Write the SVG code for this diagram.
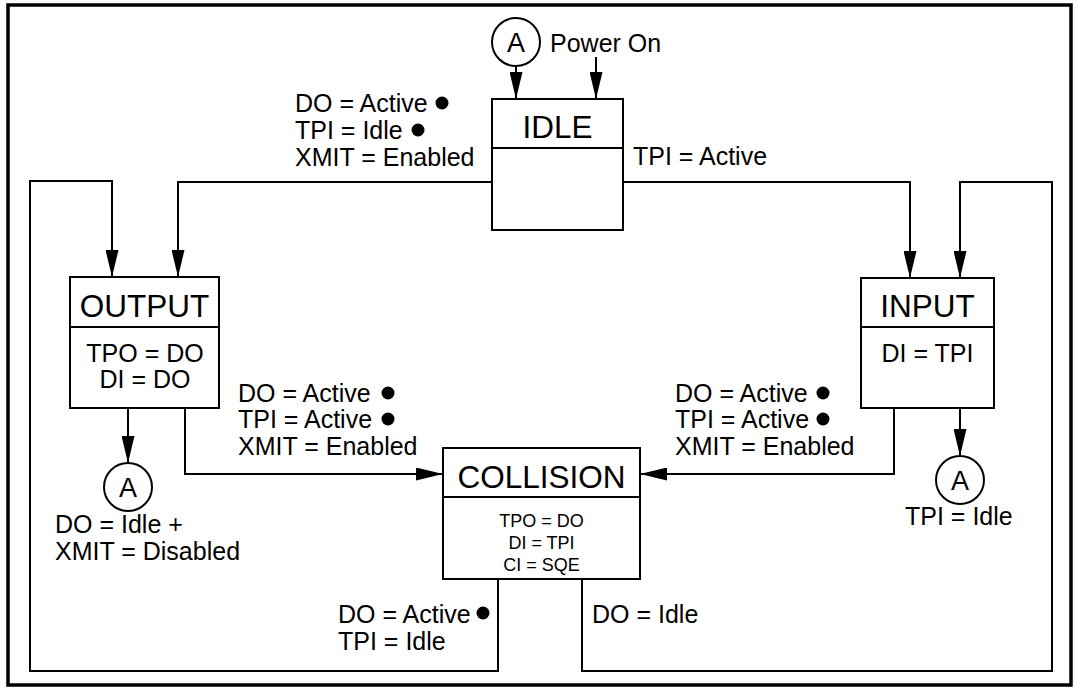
<svg xmlns="http://www.w3.org/2000/svg" width="1075" height="688" viewBox="0 0 1075 688">
<style>
text{font-family:"Liberation Sans",Arial,sans-serif;fill:#000}
.t{font-size:31.5px;text-anchor:middle}
.l{font-size:25px}
.c{font-size:25px;text-anchor:middle}
.a{font-size:27px;text-anchor:middle}
.s{font-size:18px;text-anchor:middle}
.box{fill:#fff;stroke:#000;stroke-width:2}
.conn{fill:none;stroke:#000;stroke-width:2}
.dot{fill:#000}
</style>
<defs>
<marker id="ah" markerUnits="userSpaceOnUse" markerWidth="27" markerHeight="13" refX="27" refY="6.5" orient="auto">
<path d="M0,0 L27,6.5 L0,13 z" fill="#000"/>
</marker>
</defs>
<rect x="0" y="0" width="1075" height="688" fill="#fff"/>
<rect x="8" y="5" width="1063" height="680" fill="none" stroke="#000" stroke-width="3.5"/>
<g id="connectors">
<path class="conn" d="M516,66 V99" marker-end="url(#ah)"/>
<path class="conn" d="M596,57 V99" marker-end="url(#ah)"/>
<path class="conn" d="M492,182 H178 V277" marker-end="url(#ah)"/>
<path class="conn" d="M498,579 V671 H30 V181 H112 V277" marker-end="url(#ah)"/>
<path class="conn" d="M623,182 H910 V278" marker-end="url(#ah)"/>
<path class="conn" d="M582,579 V671 H1052 V182 H960 V278" marker-end="url(#ah)"/>
<path class="conn" d="M128,408 V463" marker-end="url(#ah)"/>
<path class="conn" d="M185,408 V474 H443" marker-end="url(#ah)"/>
<path class="conn" d="M894,408 V474 H640" marker-end="url(#ah)"/>
<path class="conn" d="M960,408 V456" marker-end="url(#ah)"/>
</g>
<g id="conn-a-top">
<circle cx="516" cy="42" r="24" class="box"/>
<text class="a" x="516" y="52">A</text>
</g>
<g id="power-on">
<text class="l" x="550" y="52">Power On</text>
</g>
<g id="idle">
<rect class="box" x="492" y="99" width="131" height="131"/>
<line class="conn" x1="492" y1="148" x2="623" y2="148"/>
<text class="t" x="557.5" y="138">IDLE</text>
</g>
<g id="output">
<rect class="box" x="70" y="277" width="149" height="131"/>
<line class="conn" x1="70" y1="327" x2="219" y2="327"/>
<text class="t" x="144.5" y="317">OUTPUT</text>
<text class="c" x="145" y="362">TPO = DO</text>
<text class="c" x="145" y="388">DI = DO</text>
</g>
<g id="input">
<rect class="box" x="861" y="278" width="133" height="130"/>
<line class="conn" x1="861" y1="327" x2="994" y2="327"/>
<text class="t" x="927.5" y="317">INPUT</text>
<text class="c" x="927.5" y="362">DI = TPI</text>
</g>
<g id="collision">
<rect class="box" x="443" y="448" width="197" height="131"/>
<line class="conn" x1="443" y1="497" x2="640" y2="497"/>
<text class="t" x="541.5" y="488">COLLISION</text>
<text class="s" x="541.5" y="527">TPO = DO</text>
<text class="s" x="541.5" y="549">DI = TPI</text>
<text class="s" x="541.5" y="571">CI = SQE</text>
</g>
<g id="conn-a-output">
<circle cx="128" cy="487" r="24" class="box"/>
<text class="a" x="128" y="497">A</text>
<text class="l" x="55" y="533">DO = Idle +</text>
<text class="l" x="55" y="560">XMIT = Disabled</text>
</g>
<g id="conn-a-input">
<circle cx="960" cy="480" r="24" class="box"/>
<text class="a" x="960" y="490">A</text>
<text class="l" x="905" y="525">TPI = Idle</text>
</g>
<g id="label-idle-output">
<text class="l" x="295" y="112">DO = Active</text>
<circle class="dot" cx="442" cy="103" r="6.5"/>
<text class="l" x="295" y="139">TPI = Idle</text>
<circle class="dot" cx="418" cy="130" r="6.5"/>
<text class="l" x="295" y="166">XMIT = Enabled</text>
</g>
<g id="label-idle-input">
<text class="l" x="633" y="165">TPI = Active</text>
</g>
<g id="label-output-collision">
<text class="l" x="238" y="402">DO = Active</text>
<circle class="dot" cx="388" cy="393" r="6.5"/>
<text class="l" x="238" y="428">TPI = Active</text>
<circle class="dot" cx="388" cy="419" r="6.5"/>
<text class="l" x="238" y="455">XMIT = Enabled</text>
</g>
<g id="label-input-collision">
<text class="l" x="675" y="402">DO = Active</text>
<circle class="dot" cx="823" cy="393" r="6.5"/>
<text class="l" x="675" y="428">TPI = Active</text>
<circle class="dot" cx="823" cy="419" r="6.5"/>
<text class="l" x="675" y="455">XMIT = Enabled</text>
</g>
<g id="label-collision-output">
<text class="l" x="338" y="623">DO = Active</text>
<circle class="dot" cx="483" cy="613" r="6.5"/>
<text class="l" x="338" y="650">TPI = Idle</text>
</g>
<g id="label-collision-idle">
<text class="l" x="592" y="623">DO = Idle</text>
</g>
</svg>
